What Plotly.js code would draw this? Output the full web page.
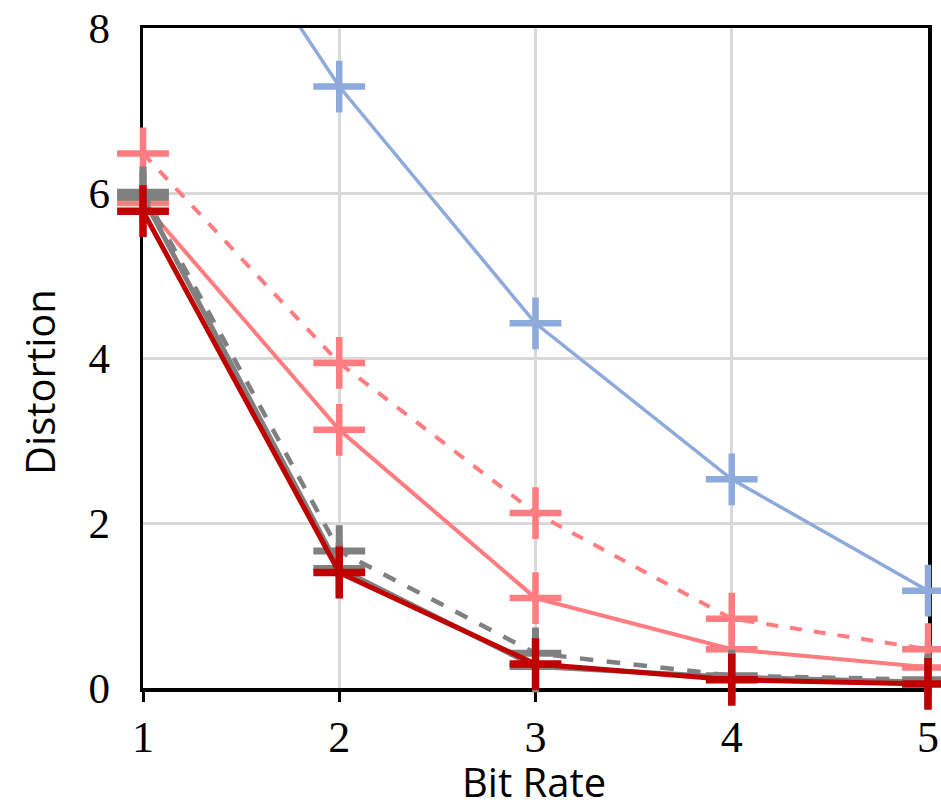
<!DOCTYPE html>
<html>
<head>
<meta charset="utf-8">
<script src="https://cdn.plot.ly/plotly-3.0.1.min.js"></script>
<style>html,body{margin:0;padding:0;background:#fff;}#chart{width:941px;height:803px;}</style>
</head>
<body>
<div id="chart"></div>
<script>
const bitRate = [1, 2, 3, 4, 5];
const blueSolid = [10.9, 7.29, 4.42, 2.53, 1.18];
const pinkDashed = [6.48, 3.94, 2.12, 0.84, 0.47];
const pinkSolid = [5.88, 3.13, 1.09, 0.47, 0.25];
const grayDashed = [6.01, 1.66, 0.42, 0.15, 0.10];
const graySolid = [5.95, 1.45, 0.26, 0.13, 0.07];
const redSolid = [5.78, 1.40, 0.29, 0.10, 0.05];
const xTicks = [1, 2, 3, 4, 5];
const yTicks = [0, 2, 4, 6, 8];

function tr(y, color, width, dash, mw) {
  return {
    x: bitRate, y: y, type: 'scatter', mode: 'lines+markers',
    line: {color: color, width: width, dash: dash},
    marker: {symbol: 'cross-thin', size: 37, color: color, line: {color: color, width: mw}},
    cliponaxis: false, showlegend: false, hoverinfo: 'skip'
  };
}

const data = [
  tr(blueSolid, '#8eaadb', 3.5, 'solid', 6.5),
  tr(pinkDashed, '#ff7c80', 4, 'dash', 6.5),
  tr(pinkSolid, '#ff7c80', 4, 'solid', 6.5),
  tr(grayDashed, '#808080', 4.5, 'dash', 7),
  tr(graySolid, '#808080', 5, 'solid', 7),
  tr(redSolid, '#c00000', 5, 'solid', 7.5)
];

const layout = {
  width: 941, height: 803,
  margin: {l: 143, r: 13, t: 28, b: 115},
  paper_bgcolor: '#fff', plot_bgcolor: '#fff',
  xaxis: {
    range: [1, 5], tickvals: xTicks, ticktext: xTicks.map(String),
    showgrid: true, gridcolor: '#d9d9d9', gridwidth: 3,
    showline: true, linecolor: '#000', linewidth: 3.5, mirror: true,
    ticks: 'outside', ticklen: 10, tickwidth: 3, tickcolor: '#000',
    ticklabelstandoff: -2,
    zeroline: false, layer: 'below traces',
    tickfont: {family: 'Liberation Serif, Times New Roman, serif', size: 44, color: '#000'}
  },
  yaxis: {
    range: [0, 8], tickvals: yTicks, ticktext: yTicks.map(String),
    showgrid: true, gridcolor: '#d9d9d9', gridwidth: 3,
    showline: true, linecolor: '#000', linewidth: 3.5, mirror: true,
    ticks: '', ticklabelstandoff: 21,
    zeroline: false, layer: 'below traces',
    tickfont: {family: 'Liberation Serif, Times New Roman, serif', size: 43, color: '#000'}
  },
  annotations: [
    {text: 'Bit Rate', xref: 'paper', yref: 'paper', x: 0.498, y: -0.142, xanchor: 'center', yanchor: 'middle',
     showarrow: false, font: {family: 'Open Sans, sans-serif', size: 40, color: '#000'}},
    {text: 'Distortion', xref: 'paper', yref: 'paper', x: -0.131, y: 0.464, xanchor: 'center', yanchor: 'middle',
     textangle: -90, showarrow: false, font: {family: 'Open Sans, sans-serif', size: 40, color: '#000'}}
  ]
};

Plotly.newPlot('chart', data, layout, {displayModeBar: false, staticPlot: true});
</script>
</body>
</html>
